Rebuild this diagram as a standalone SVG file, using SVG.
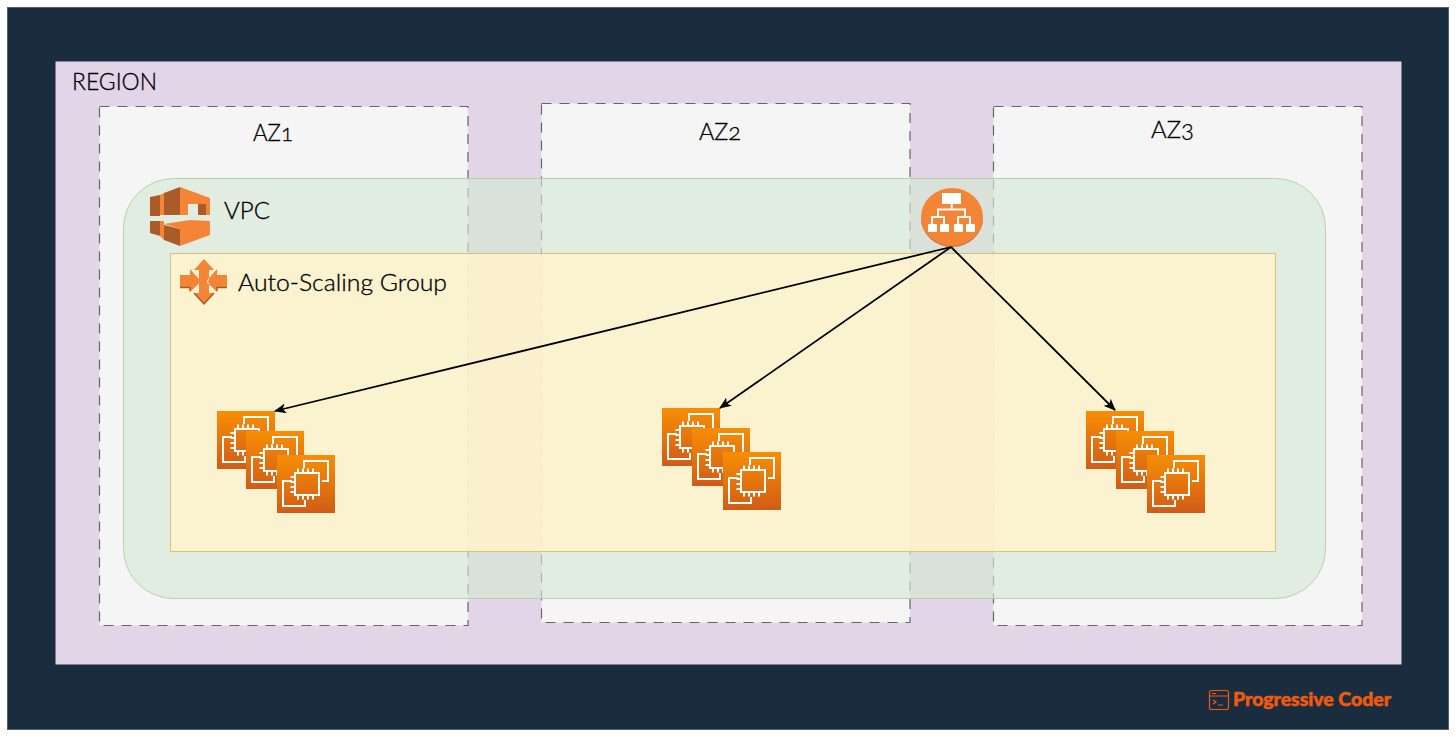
<svg xmlns="http://www.w3.org/2000/svg" width="1456" height="737" viewBox="0 0 1456 737">
<style>
.t{font-family:"Lato","Open Sans","Liberation Sans",sans-serif;fill:#000;font-size:23px;font-weight:300;font-variant-numeric:oldstyle-nums;stroke:#000;stroke-width:.3}
.az{fill:#f5f5f5;stroke:#666;stroke-width:1.2;stroke-dasharray:10 8}
.c{fill:none;stroke:#000;stroke-width:1.8}
.w{fill:none;stroke:#fff;stroke-width:2}
.wf{fill:#fff}
.o{fill:#f58536}
.d{fill:#ab5b29}
</style>
<defs>
<marker id="ah" viewBox="0 0 12 10" refX="11" refY="5" markerWidth="12" markerHeight="10" markerUnits="userSpaceOnUse" orient="auto"><path d="M0 0L12 5L0 10L3 5Z" fill="#000"/></marker>
<linearGradient id="ec2g" x1="0" y1="0" x2="0" y2="1"><stop offset="0" stop-color="#f78e04"/><stop offset="1" stop-color="#d05c17"/></linearGradient>
<g id="chip">
<rect width="58" height="58" fill="url(#ec2g)"/>
<path class="w" d="M27 13V6H51V26H45M15 26H6V51H28V45"/>
<rect class="w" x="18" y="18" width="24" height="22"/>
<path class="w" stroke-width="1.500" d="M21 18V13.500M26 18V13.500M31 18V13.500M36 18V13.500M21 40V44.500M26 40V44.500M31 40V44.500M36 40V44.500M18 22H13.500M18 27H13.500M18 32H13.500M18 37H13.500"/>
</g>
</defs>
<rect width="1456" height="737" fill="#fff"/>
<g id="background"><rect x="7.500" y="7.500" width="1441" height="722" fill="#192d3e" stroke="#4f6070" stroke-width="1"/></g>
<g id="region"><rect x="55.500" y="61.500" width="1346" height="603" fill="#e1d5e7"/><text class="t" x="72" y="90" textLength="85" lengthAdjust="spacingAndGlyphs">REGION</text></g>
<g id="az1"><rect class="az" x="99.500" y="106.500" width="368.500" height="519"/><text class="t" x="253" y="141" textLength="40" lengthAdjust="spacingAndGlyphs">AZ1</text></g>
<g id="az2"><rect class="az" x="541.500" y="103.500" width="368.500" height="519"/><text class="t" x="699" y="140" textLength="42" lengthAdjust="spacingAndGlyphs">AZ2</text></g>
<g id="az3"><rect class="az" x="993.500" y="106.500" width="368.500" height="519"/><text class="t" x="1151" y="138" textLength="43" lengthAdjust="spacingAndGlyphs">AZ3</text></g>
<g id="vpc">
<rect x="123.500" y="178.500" width="1202" height="420" rx="50" fill="#d5e8d4" fill-opacity=".62" stroke="#b6d3a8" stroke-width="1"/>
<path class="o" d="M160 195L164 193V215H160Z"/>
<path class="d" d="M150 197L160 195V216H150ZM164 193L180 187V215H164Z"/>
<path class="o" d="M180 187L210 198V215H206V204L188 204V215H180Z"/>
<path class="d" d="M198 204H206V215H198Z"/>
<path class="o" d="M160 221H164V240L160 236Z"/>
<path class="d" d="M150 221H160V236L150 233ZM164 225L180 229V246L164 240Z"/>
<path class="o" d="M164 224L190 220L210 221V235L180 246V229Z"/>
<text class="t" x="224" y="219" textLength="46" lengthAdjust="spacingAndGlyphs">VPC</text>
</g>
<g id="asg">
<rect x="170.500" y="253.500" width="1105" height="298" fill="#fff2cc" fill-opacity=".86" stroke="#d6c27a" stroke-width="1"/>
<path class="o" d="M204 259L214 270H209V280L204 285L199 280V270H194ZM204 304L194 293H199V283L204 278L209 283V293H214ZM180 275H190V269L201 281.500L190 292V288H180ZM227 275H217V269L206 281.500L217 292V288H227Z"/>
<path d="M180 287.500H190V291M227 287.500H217V291M194 293L204 304L214 293" fill="none" stroke="#ab5b29" stroke-width="1.500"/>
<text class="t" x="238" y="291" textLength="209" lengthAdjust="spacingAndGlyphs">Auto-Scaling Group</text>
</g>
<g id="ec2-az1"><use href="#chip" x="217" y="411"/><use href="#chip" x="246" y="431"/><use href="#chip" x="277" y="455"/></g>
<g id="ec2-az2"><use href="#chip" x="662" y="408"/><use href="#chip" x="692" y="428"/><use href="#chip" x="723" y="452"/></g>
<g id="ec2-az3"><use href="#chip" x="1086" y="411"/><use href="#chip" x="1116" y="431"/><use href="#chip" x="1147" y="455"/></g>
<g id="load-balancer">
<path d="M921 218a31 29 0 0 0 62 0z" fill="#c9662a"/>
<ellipse cx="952" cy="217" rx="31" ry="29" class="o"/>
<rect class="wf" x="942" y="193" width="19" height="11"/>
<path class="w" d="M951.700 204V209.500M938 217V209.500H965V217M932 224V217H944V224M958 224V217H970V224"/>
<rect class="wf" x="928" y="224" width="9" height="8"/><rect class="wf" x="940" y="224" width="9" height="8"/><rect class="wf" x="954" y="224" width="9" height="8"/><rect class="wf" x="966" y="224" width="9" height="8"/>
</g>
<g id="connectors">
<path class="c" d="M951 247L275 411" marker-end="url(#ah)"/>
<path class="c" d="M951 247L720 408" marker-end="url(#ah)"/>
<path class="c" d="M951 247L1115 410" marker-end="url(#ah)"/>
</g>
<g id="logo">
<rect x="1209.500" y="690.500" width="19" height="19" rx="2" fill="none" stroke="#f0590e" stroke-width="1.200"/>
<path d="M1209.500 696H1228.500M1212 693.500H1216M1213 700L1216 702L1213 704M1218 705H1223" fill="none" stroke="#f0590e" stroke-width="1.200"/>
<text x="1233" y="706" font-family="Lato,'Liberation Sans',sans-serif" font-weight="900" font-size="18" fill="#f0590e" stroke="#f0590e" stroke-width=".5" textLength="158" lengthAdjust="spacingAndGlyphs">Progressive Coder</text>
</g>
</svg>
